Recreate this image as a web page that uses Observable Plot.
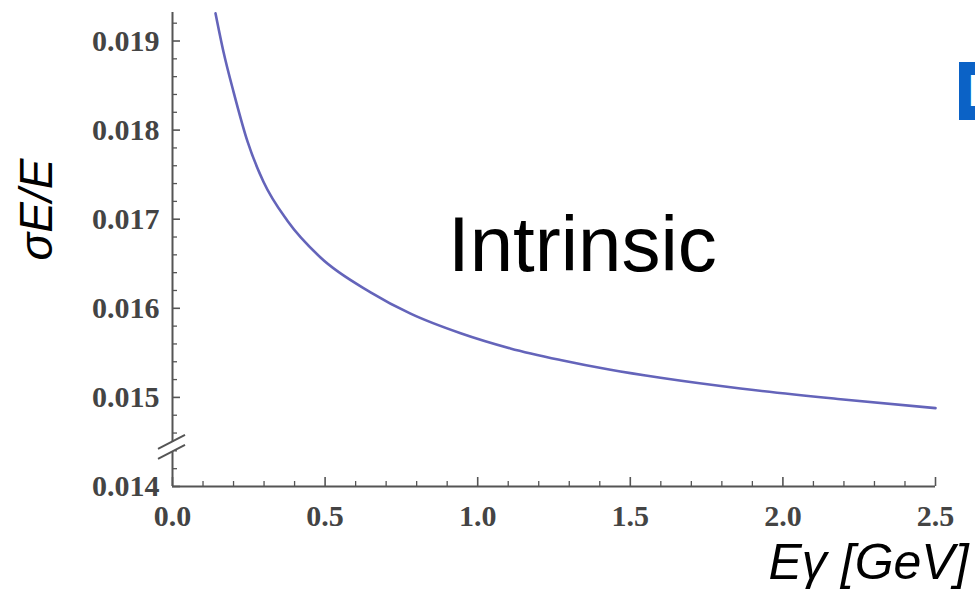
<!DOCTYPE html>
<html>
<head>
<meta charset="utf-8">
<script src="https://cdn.jsdelivr.net/npm/d3@7"></script>
<script src="https://cdn.jsdelivr.net/npm/@observablehq/plot@0.6"></script>
<style>
  html, body { margin: 0; padding: 0; background: #fff; overflow: hidden; width: 975px; height: 597px; }
  #chart { position: absolute; left: 0; top: 0; }
  #tab { position: absolute; left: 959px; top: 62px; width: 16px; height: 58px; background: #0b62c6; overflow: hidden;
         color: #fff; font: bold 44px "Liberation Sans", sans-serif; line-height: 58px; padding-left: 9px; box-sizing: border-box; white-space: nowrap; }
</style>
</head>
<body>
<div id="chart"></div>
<div id="tab">B</div>
<script>
// Photon energy (GeV) and intrinsic relative resolution σE/E
const energy = [0.141, 0.167, 0.200, 0.246, 0.298, 0.377, 0.485, 0.649, 0.780, 0.944, 1.107, 1.271, 1.435, 1.599, 1.861, 2.189, 2.500];
const sigma  = [0.01931, 0.01888, 0.01843, 0.01787, 0.01742, 0.01698, 0.01657, 0.01618, 0.01594, 0.01572, 0.01555, 0.01542, 0.01531, 0.01522, 0.01510, 0.01498, 0.01488];

const xMajor = [0, 0.5, 1.0, 1.5, 2.0, 2.5];
const xMinor = d3.range(0, 25).map(i => i / 10).filter(v => Math.abs(v * 2 - Math.round(v * 2)) > 1e-6);
const yMajor = [0.014, 0.015, 0.016, 0.017, 0.018, 0.019];
const yMinor = d3.range(70, 97).map(i => i / 5000).filter(v => Math.abs(v * 1000 - Math.round(v * 1000)) > 1e-6);
const yBreak = [0.01444];

const curveLabel = ["Intrinsic"];
const yTitle = ["σE/E"];
const xTitle = ["Eγ [GeV]"];

const data = energy.map((e, i) => ({e, s: sigma[i]}));

const axisColor = "#555";
const tickFont = {fontFamily: "Liberation Serif, serif", fontWeight: "bold", fontSize: 30, fill: "#444"};

const plot = Plot.plot({
  width: 975,
  height: 597,
  marginLeft: 172,
  marginRight: 40,
  marginTop: 12,
  marginBottom: 111,
  x: {domain: [0, 2.5], label: null},
  y: {domain: [0.014, 0.01932], label: null},
  style: {background: "transparent", overflow: "visible"},
  marks: [
    // axis lines
    Plot.ruleX([0], {stroke: axisColor, strokeWidth: 2}),
    Plot.ruleY([0.014], {stroke: axisColor, strokeWidth: 2}),
    // inward ticks
    Plot.axisY({ticks: yMajor, tickSize: -8, text: null, label: null, stroke: axisColor, strokeWidth: 1.6}),
    Plot.axisY({ticks: yMinor, tickSize: -5, text: null, label: null, stroke: axisColor, strokeWidth: 1.3}),
    Plot.axisX({ticks: xMajor, tickSize: -9, text: null, label: null, stroke: axisColor, strokeWidth: 1.6}),
    Plot.axisX({ticks: xMinor, tickSize: -5, text: null, label: null, stroke: axisColor, strokeWidth: 1.3}),
    // tick labels
    Plot.axisY({ticks: yMajor, tickSize: 0, tickPadding: 13, tickFormat: d => d.toFixed(3), label: null, ...tickFont}),
    Plot.axisX({ticks: xMajor, tickSize: 0, tickPadding: 18, tickFormat: d => d.toFixed(1), label: null, ...tickFont}),
    // curve
    Plot.line(data, {x: "e", y: "s", stroke: "#6464ba", strokeWidth: 2.6, curve: "monotone-x"}),
    // labels
    Plot.text(curveLabel, {x: 1.343, y: 0.0167, text: d => d, fontFamily: "Liberation Sans, Arial, sans-serif", fontSize: 78, fill: "#000"}),
    Plot.text(yTitle, {frameAnchor: "left", text: d => d, rotate: -90, dx: -135, dy: 11,
      fontFamily: "Liberation Sans, Arial, sans-serif", fontStyle: "italic", fontSize: 46, fill: "#000"}),
    Plot.text(xTitle, {frameAnchor: "bottom-right", text: d => d, textAnchor: "start", dx: -167, dy: 92,
      fontFamily: "Liberation Sans, Arial, sans-serif", fontStyle: "italic", fontSize: 50, fill: "#000"})
  ]
});

document.getElementById("chart").appendChild(plot);

// axis break mark "//" on the y axis
const xs = plot.scale("x"), ys = plot.scale("y");
const svg = d3.select(plot);
const g = svg.append("g");
yBreak.forEach(b => {
  const cx = xs.apply(0), cy = ys.apply(b);
  g.append("rect").attr("x", cx - 3).attr("y", cy - 5).attr("width", 6).attr("height", 10).attr("fill", "#fff");
  [-5, 5].forEach(o => {
    g.append("line")
      .attr("x1", cx - 14).attr("y1", cy + o + 7)
      .attr("x2", cx + 13).attr("y2", cy + o - 7)
      .attr("stroke", axisColor).attr("stroke-width", 2);
  });
});
</script>
</body>
</html>
